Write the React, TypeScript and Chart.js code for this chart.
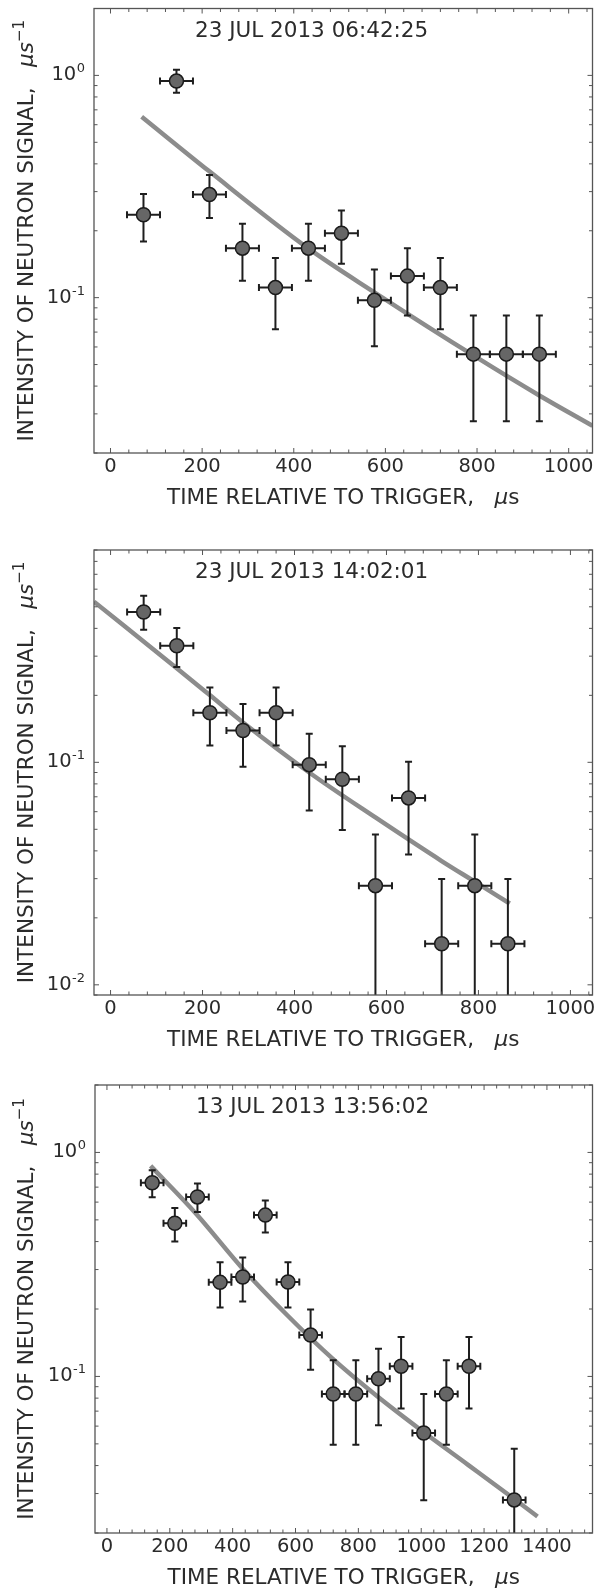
import React, { useEffect, useRef } from "react";
import { Chart, registerables } from "chart.js";

Chart.register(...registerables);

const FONT = '"DejaVu Sans", "Liberation Sans", sans-serif';
const TEXT = "#2b2b2b";
const AXIS = "#555555";

// ---------------- Panel 1: 23 JUL 2013 06:42:25 ----------------
const p1Title = "23 JUL 2013 06:42:25";
const p1X = [72, 144, 216, 288, 360, 432, 504, 576, 648, 720, 792, 864, 936];
const p1XErr = [36, 36, 36, 36, 36, 36, 36, 36, 36, 36, 36, 36, 36];
const p1Y = [0.236, 0.943, 0.291, 0.167, 0.111, 0.167, 0.195, 0.0973, 0.125, 0.111, 0.0557, 0.0557, 0.0557];
const p1YHi = [0.293, 1.06, 0.356, 0.215, 0.151, 0.215, 0.247, 0.134, 0.167, 0.151, 0.0832, 0.0832, 0.0832];
const p1YLo = [0.179, 0.835, 0.228, 0.119, 0.072, 0.119, 0.142, 0.0604, 0.0832, 0.072, 0.0278, 0.0278, 0.0278];
const p1FitX = [68, 215, 431, 575, 800, 936, 1052];
const p1FitY = [0.652, 0.371, 0.167, 0.106, 0.0537, 0.0363, 0.0265];
const p1XTicks = [0, 200, 400, 600, 800, 1000];
const p1YTicks = [0.1, 1];
const p1YTickExp = ["-1", "0"];

// ---------------- Panel 2: 23 JUL 2013 14:02:01 ----------------
const p2Title = "23 JUL 2013 14:02:01";
const p2X = [72, 144, 216, 288, 360, 432, 504, 576, 648, 720, 792, 864];
const p2XErr = [36, 36, 36, 36, 36, 36, 36, 36, 36, 36, 36, 36];
const p2Y = [0.474, 0.334, 0.167, 0.139, 0.167, 0.0976, 0.0839, 0.0279, 0.0692, 0.0153, 0.0279, 0.0153];
const p2YHi = [0.56, 0.402, 0.217, 0.183, 0.217, 0.1345, 0.118, 0.0474, 0.1007, 0.0299, 0.0474, 0.0299];
const p2YLo = [0.394, 0.268, 0.119, 0.0955, 0.119, 0.0608, 0.0497, 0, 0.0385, 0, 0, 0];
const p2FitX = [-36, 144, 215, 288, 432, 576, 720, 793, 868];
const p2FitY = [0.527, 0.265, 0.201, 0.151, 0.09, 0.0565, 0.036, 0.029, 0.0232];
const p2XTicks = [0, 200, 400, 600, 800, 1000];
const p2YTicks = [0.01, 0.1];
const p2YTickExp = ["-2", "-1"];

// ---------------- Panel 3: 13 JUL 2013 13:56:02 ----------------
const p3Title = "13 JUL 2013 13:56:02";
const p3X = [144, 216, 288, 360, 432, 504, 576, 648, 720, 792, 864, 936, 1008, 1080, 1152, 1296];
const p3XErr = [36, 36, 36, 36, 36, 36, 36, 36, 36, 36, 36, 36, 36, 36, 36, 36];
const p3Y = [0.732, 0.483, 0.633, 0.263, 0.278, 0.525, 0.264, 0.153, 0.0835, 0.0835, 0.0976, 0.111, 0.0559, 0.0835, 0.111, 0.0281];
const p3YHi = [0.832, 0.565, 0.727, 0.323, 0.34, 0.61, 0.323, 0.199, 0.118, 0.118, 0.133, 0.15, 0.0835, 0.118, 0.15, 0.0475];
const p3YLo = [0.631, 0.4, 0.542, 0.203, 0.216, 0.439, 0.203, 0.107, 0.0495, 0.0495, 0.0605, 0.072, 0.028, 0.0495, 0.072, 0];
const p3FitX = [139, 285, 430, 573, 718, 861, 1004, 1149, 1294, 1370];
const p3FitY = [0.871, 0.53, 0.305, 0.188, 0.12, 0.0813, 0.0569, 0.0403, 0.0285, 0.0237];
const p3XTicks = [0, 200, 400, 600, 800, 1000, 1200, 1400];
const p3YTicks = [0.1, 1];
const p3YTickExp = ["-1", "0"];

const xAxisTitle = "TIME RELATIVE TO TRIGGER,";
const yAxisTitle = "INTENSITY OF NEUTRON SIGNAL,";

type Run = { text: string; font: string; dy?: number; w?: number };

function drawRuns(ctx: CanvasRenderingContext2D, runs: Run[], cx: number, baseline: number) {
  let total = 0;
  for (const r of runs) {
    ctx.font = r.font;
    r.w = ctx.measureText(r.text).width;
    total += r.w;
  }
  let x = cx - total / 2;
  ctx.textAlign = "left";
  ctx.textBaseline = "alphabetic";
  for (const r of runs) {
    ctx.font = r.font;
    ctx.fillText(r.text, x, baseline + (r.dy || 0));
    x += r.w || 0;
  }
}

type PanelProps = {
  top: number;
  height: number;
  area: { left: number; right: number; top: number; bottom: number };
  title: string;
  xMin: number;
  xMax: number;
  yMin: number;
  yMax: number;
  xTicks: number[];
  yTicks: number[];
  yTickExp: string[];
  x: number[];
  xErr: number[];
  y: number[];
  yLo: number[];
  yHi: number[];
  fitX: number[];
  fitY: number[];
};

function Panel(p: PanelProps) {
  const ref = useRef<HTMLCanvasElement>(null);
  useEffect(() => {
    const canvas = ref.current;
    if (!canvas) return;
    const W = 601;
    const H = p.height;

    const decor = {
      id: "decor",
      beforeDatasetDraw(chart: any, args: any) {
        if (args.index !== 0) return;
        const ctx: CanvasRenderingContext2D = chart.ctx;
        const xs = chart.scales.x;
        const ys = chart.scales.y;
        const ca = chart.chartArea;
        ctx.save();
        ctx.beginPath();
        ctx.rect(ca.left, ca.top, ca.right - ca.left, ca.bottom - ca.top);
        ctx.clip();
        ctx.strokeStyle = "#1e1e1e";
        ctx.lineWidth = 2;
        const cap = 3.5;
        for (let i = 0; i < p.x.length; i++) {
          const px = xs.getPixelForValue(p.x[i]);
          const py = ys.getPixelForValue(p.y[i]);
          const pHi = ys.getPixelForValue(p.yHi[i]);
          const loClipped = p.yLo[i] <= 0;
          const pLo = loClipped ? ca.bottom + 5 : ys.getPixelForValue(p.yLo[i]);
          const pxL = xs.getPixelForValue(p.x[i] - p.xErr[i]);
          const pxR = xs.getPixelForValue(p.x[i] + p.xErr[i]);
          ctx.beginPath();
          ctx.moveTo(px, pHi);
          ctx.lineTo(px, pLo);
          ctx.moveTo(px - cap, pHi);
          ctx.lineTo(px + cap, pHi);
          if (!loClipped) {
            ctx.moveTo(px - cap, pLo);
            ctx.lineTo(px + cap, pLo);
          }
          ctx.moveTo(pxL, py);
          ctx.lineTo(pxR, py);
          ctx.moveTo(pxL, py - cap);
          ctx.lineTo(pxL, py + cap);
          ctx.moveTo(pxR, py - cap);
          ctx.lineTo(pxR, py + cap);
          ctx.stroke();
        }
        ctx.restore();
      },
      afterDraw(chart: any) {
        const ctx: CanvasRenderingContext2D = chart.ctx;
        const xs = chart.scales.x;
        const ys = chart.scales.y;
        const ca = chart.chartArea;
        ctx.save();
        // frame
        ctx.strokeStyle = AXIS;
        ctx.lineWidth = 1.3;
        ctx.strokeRect(ca.left, ca.top, ca.right - ca.left, ca.bottom - ca.top);
        // x ticks (inward, all sides)
        ctx.lineWidth = 1;
        ctx.beginPath();
        const minorStep = 40;
        const majorSet = new Set(p.xTicks);
        for (let v = Math.ceil(p.xMin / minorStep) * minorStep; v <= p.xMax; v += minorStep) {
          const len = majorSet.has(v) ? 5 : 3.5;
          const xp = xs.getPixelForValue(v);
          ctx.moveTo(xp, ca.bottom);
          ctx.lineTo(xp, ca.bottom - len);
          ctx.moveTo(xp, ca.top);
          ctx.lineTo(xp, ca.top + len);
        }
        // y ticks (log)
        const d0 = Math.floor(Math.log10(p.yMin));
        const d1 = Math.ceil(Math.log10(p.yMax));
        for (let d = d0; d <= d1; d++) {
          for (let m = 1; m <= 9; m++) {
            const v = m * Math.pow(10, d);
            if (v < p.yMin || v > p.yMax) continue;
            const len = m === 1 ? 5 : 3.5;
            const yp = ys.getPixelForValue(v);
            ctx.moveTo(ca.left, yp);
            ctx.lineTo(ca.left + len, yp);
            ctx.moveTo(ca.right, yp);
            ctx.lineTo(ca.right - len, yp);
          }
        }
        ctx.stroke();

        ctx.fillStyle = TEXT;
        // y tick labels 10^n
        for (let i = 0; i < p.yTicks.length; i++) {
          const yp = ys.getPixelForValue(p.yTicks[i]);
          const expRight = ca.left - 9;
          ctx.font = `13px ${FONT}`;
          const ew = ctx.measureText(p.yTickExp[i]).width;
          ctx.textAlign = "left";
          ctx.textBaseline = "alphabetic";
          ctx.fillText(p.yTickExp[i], expRight - ew, yp - 3);
          ctx.font = `19.5px ${FONT}`;
          ctx.textAlign = "right";
          ctx.textBaseline = "middle";
          ctx.fillText("10", expRight - ew - 0.5, yp);
        }

        // panel title
        ctx.font = `21.5px ${FONT}`;
        ctx.textAlign = "left";
        ctx.textBaseline = "alphabetic";
        ctx.fillText(p.title, ca.left + 101, ca.top + 28);

        // x axis title
        drawRuns(
          ctx,
          [
            { text: xAxisTitle, font: `21.5px ${FONT}` },
            { text: "   ", font: `21.5px ${FONT}` },
            { text: "\u03bc", font: `italic 21.5px ${FONT}` },
            { text: "s", font: `21.5px ${FONT}` },
          ],
          (ca.left + ca.right) / 2,
          ca.bottom + 51
        );

        // y axis title
        ctx.save();
        ctx.translate(33, (ca.top + ca.bottom) / 2);
        ctx.rotate(-Math.PI / 2);
        drawRuns(
          ctx,
          [
            { text: yAxisTitle, font: `21.5px ${FONT}` },
            { text: "   ", font: `21.5px ${FONT}` },
            { text: "\u03bcs", font: `italic 21.5px ${FONT}` },
            { text: "\u22121", font: `15px ${FONT}`, dy: -9 },
          ],
          0,
          0
        );
        ctx.restore();
        ctx.restore();
      },
    };

    const points = p.x.map((xv, i) => ({ x: xv, y: p.y[i] }));
    const fit = p.fitX.map((xv, i) => ({ x: xv, y: p.fitY[i] }));

    const chart = new Chart(canvas, {
      type: "scatter",
      data: {
        datasets: [
          {
            type: "scatter",
            data: points,
            order: 1,
            pointRadius: 7,
            pointHoverRadius: 7,
            pointBackgroundColor: "#666666",
            pointBorderColor: "#1a1a1a",
            pointBorderWidth: 1.5,
            showLine: false,
          } as any,
          {
            type: "line",
            data: fit,
            order: 2,
            borderColor: "#8c8c8c",
            borderWidth: 4.5,
            pointRadius: 0,
            fill: false,
            tension: 0.4,
            cubicInterpolationMode: "monotone",
          } as any,
        ],
      },
      options: {
        responsive: false,
        animation: false,
        events: [],
        layout: {
          padding: {
            top: p.area.top,
            left: p.area.left - 94,
            right: W - p.area.right,
            bottom: 0,
          },
        },
        plugins: {
          legend: { display: false },
          tooltip: { enabled: false },
          title: { display: false },
        },
        scales: {
          x: {
            type: "linear",
            min: p.xMin,
            max: p.xMax,
            afterFit: (s: any) => {
              s.height = H - p.area.bottom;
            },
            afterBuildTicks: (s: any) => {
              s.ticks = p.xTicks.map((v) => ({ value: v }));
            },
            ticks: {
              font: { family: FONT, size: 19.5 },
              color: TEXT,
              padding: 2,
              maxRotation: 0,
              autoSkip: false,
              callback: (v: any) => String(v),
            },
            grid: { display: false, drawTicks: false },
            border: { display: false },
          },
          y: {
            type: "logarithmic",
            min: p.yMin,
            max: p.yMax,
            afterFit: (s: any) => {
              s.width = 94;
            },
            ticks: { display: false },
            grid: { display: false, drawTicks: false },
            border: { display: false },
          },
        },
      } as any,
      plugins: [decor],
    });
    return () => chart.destroy();
  }, []);
  return (
    <canvas
      ref={ref}
      width={601}
      height={p.height}
      style={{ position: "absolute", left: 0, top: p.top, width: 601, height: p.height, display: "block" }}
    />
  );
}

export default function App() {
  return (
    <div style={{ position: "absolute", left: 0, top: 0, width: 601, height: 1592, background: "#ffffff" }}>
      <Panel
        top={0}
        height={530}
        area={{ left: 94, right: 596, top: 7, bottom: 453 }}
        title={p1Title}
        xMin={-36}
        xMax={1052}
        yMin={0.02}
        yMax={2}
        xTicks={p1XTicks}
        yTicks={p1YTicks}
        yTickExp={p1YTickExp}
        x={p1X}
        xErr={p1XErr}
        y={p1Y}
        yLo={p1YLo}
        yHi={p1YHi}
        fitX={p1FitX}
        fitY={p1FitY}
      />
      <Panel
        top={530}
        height={530}
        area={{ left: 94, right: 594, top: 20, bottom: 465 }}
        title={p2Title}
        xMin={-36}
        xMax={1048}
        yMin={0.009}
        yMax={0.9}
        xTicks={p2XTicks}
        yTicks={p2YTicks}
        yTickExp={p2YTickExp}
        x={p2X}
        xErr={p2XErr}
        y={p2Y}
        yLo={p2YLo}
        yHi={p2YHi}
        fitX={p2FitX}
        fitY={p2FitY}
      />
      <Panel
        top={1060}
        height={532}
        area={{ left: 95, right: 598, top: 25, bottom: 473 }}
        title={p3Title}
        xMin={-38}
        xMax={1545}
        yMin={0.02}
        yMax={2}
        xTicks={p3XTicks}
        yTicks={p3YTicks}
        yTickExp={p3YTickExp}
        x={p3X}
        xErr={p3XErr}
        y={p3Y}
        yLo={p3YLo}
        yHi={p3YHi}
        fitX={p3FitX}
        fitY={p3FitY}
      />
    </div>
  );
}
